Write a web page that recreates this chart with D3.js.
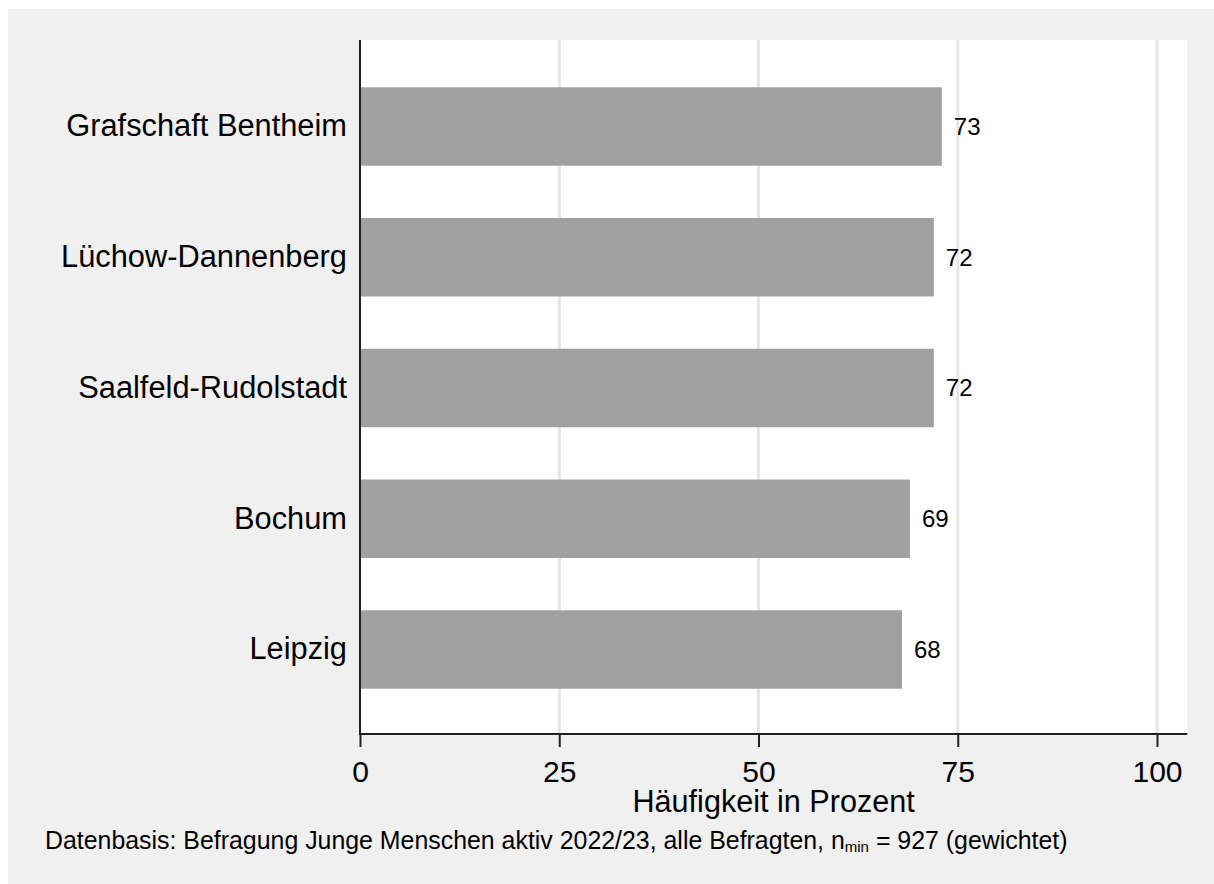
<!DOCTYPE html>
<html><head><meta charset="utf-8">
<script src="https://cdn.jsdelivr.net/npm/d3@7"></script>
<style>body{margin:0;background:#fff;} svg{display:block;font-family:"Liberation Sans",Arial,sans-serif;}</style>
</head><body>
<svg id="c" width="1214" height="884"></svg>
<script>
const categories = ["Grafschaft Bentheim","Lüchow-Dannenberg","Saalfeld-Rudolstadt","Bochum","Leipzig"];
const values = [73,72,72,69,68];
const xTicks = [0,25,50,75,100];
const xTitle = "Häufigkeit in Prozent";

const svg = d3.select("#c");
svg.append("rect").attr("x",8).attr("y",9).attr("width",1206).attr("height",875).attr("fill","#f0f0f0");

const x = d3.scaleLinear().domain([0,100]).range([360,1157]);
const plotL = 360, plotR = x(103.8), plotT = 40, plotB = 734;
const y = d3.scaleBand().domain(categories).range([plotT+1.5,plotB+0.5]).paddingInner(0.4).paddingOuter(0.35);

svg.append("rect").attr("x",plotL).attr("y",plotT).attr("width",plotR-plotL).attr("height",plotB-plotT).attr("fill","#fff");

// gridlines
svg.append("g").selectAll("line").data(xTicks.slice(1)).join("line")
  .attr("x1",d=>x(d)).attr("x2",d=>x(d)).attr("y1",plotT).attr("y2",plotB)
  .attr("stroke","#e6e6e6").attr("stroke-width",3);

// bars
svg.append("g").selectAll("rect").data(values).join("rect")
  .attr("x",x(0)).attr("y",(d,i)=>y(categories[i]))
  .attr("width",d=>x(d)-x(0)).attr("height",y.bandwidth())
  .attr("fill","#a0a0a0");

// value labels
svg.append("g").selectAll("text").data(values).join("text")
  .attr("x",d=>x(d)+12).attr("y",(d,i)=>y(categories[i])+y.bandwidth()/2)
  .attr("dy","0.35em").attr("font-size",24).attr("fill","#000").text(d=>d);

// x axis
const xa = svg.append("g").attr("transform",`translate(0,${plotB})`)
  .call(d3.axisBottom(x).tickValues(xTicks).tickSize(13).tickPadding(0).tickFormat(d3.format("d")));
xa.select(".domain").remove();
xa.selectAll(".tick line").attr("stroke","#222").attr("stroke-width",2);
xa.selectAll(".tick text").attr("font-size",30).attr("fill","#000").attr("font-family","Liberation Sans, Arial, sans-serif")
  .attr("y",null).attr("dy",null).attr("transform","translate(0,48)");
svg.append("line").attr("x1",plotL-1).attr("x2",plotR).attr("y1",plotB).attr("y2",plotB).attr("stroke","#222").attr("stroke-width",2);

// y axis
const ya = svg.append("g").attr("transform",`translate(${plotL},0)`)
  .call(d3.axisLeft(y).tickSize(0).tickPadding(13));
ya.select(".domain").remove();
ya.selectAll(".tick text").attr("font-size",30.8).attr("fill","#000").attr("font-family","Liberation Sans, Arial, sans-serif");
svg.append("line").attr("x1",plotL).attr("x2",plotL).attr("y1",plotT).attr("y2",plotB+1).attr("stroke","#222").attr("stroke-width",2);

// axis title
svg.append("text").attr("x",(plotL+plotR)/2).attr("y",812).attr("text-anchor","middle")
  .attr("font-size",30.6).attr("fill","#000").text(xTitle);

// footer
const f = svg.append("text").attr("x",45).attr("y",849).attr("font-size",24.9).attr("fill","#000");
f.append("tspan").text("Datenbasis: Befragung Junge Menschen aktiv 2022/23, alle Befragten, n");
f.append("tspan").attr("font-size",15).attr("dy",3).text("min");
f.append("tspan").attr("dy",-3).text(" = 927 (gewichtet)");
</script>
</body></html>
